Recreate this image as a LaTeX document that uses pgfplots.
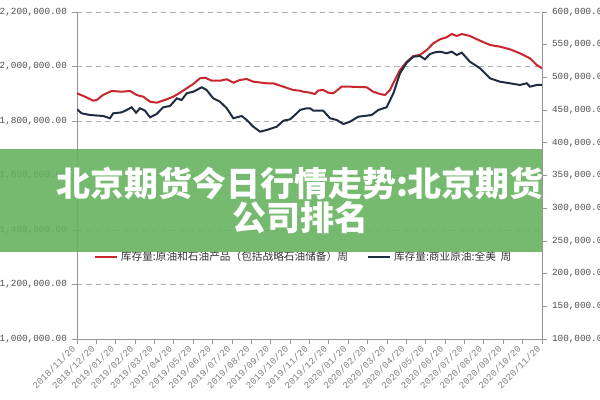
\documentclass[border=0pt]{standalone}
\usepackage{pgfplots}
\pgfplotsset{compat=1.18}
\usepackage{fontspec}
\setmainfont{Liberation Sans}
\newfontfamily\cjk{Noto Sans CJK SC}
\newfontfamily\numfont{Liberation Mono}
\definecolor{redline}{RGB}{200,38,45}
\definecolor{blueline}{RGB}{32,44,66}
\definecolor{banner}{RGB}{103,178,96}
\definecolor{axisgray}{RGB}{150,150,150}
\definecolor{gridgray}{RGB}{175,175,175}

\pgfplotsset{
  base/.style={
    at={(57.75pt,45.75pt)}, anchor=south west,
    scale only axis, width=348.75pt, height=245.25pt,
    xmin=0, xmax=24,
    axis line style={-, draw=axisgray, line width=0.6pt},
    tick style={draw=axisgray, line width=0.6pt},
    tick align=outside, major tick length=4pt,
    scaled y ticks=false,
    tick label style={font=\numfont\fontsize{7}{8}\selectfont, text=black!70},
  }
}

\begin{document}
\begin{tikzpicture}
\path[use as bounding box] (0,0) rectangle (450pt,300pt);

\begin{axis}[base,
    axis y line*=left, axis x line*=bottom,
    ymin=1000000, ymax=2200000,
    ytick={1000000,1200000,1400000,1600000,1800000,2000000,2200000},
    yticklabels={{1,000,000.00},{1,200,000.00},{1,400,000.00},{1,600,000.00},{1,800,000.00},{2,000,000.00},{2,200,000.00}},
    ymajorgrids, grid style={gridgray, dash pattern=on 4pt off 3pt, line width=0.6pt},
    xtick={0,...,24},
    xticklabels={2018/11/20,2018/12/20,2019/01/20,2019/02/20,2019/03/20,2019/04/20,2019/05/20,2019/06/20,2019/07/20,2019/08/20,2019/09/20,2019/10/20,2019/11/20,2019/12/20,2020/01/20,2020/02/20,2020/03/20,2020/04/20,2020/05/20,2020/06/20,2020/07/20,2020/08/20,2020/09/20,2020/10/20,2020/11/20},
    x tick label style={rotate=45, anchor=east, text=black!50, font=\numfont\fontsize{7}{7}\selectfont},
    legend columns=2,
    legend cell align=left,
    legend style={at={(0.035,0.252)}, anchor=west, draw=none, fill=none, inner sep=0pt,
      font=\cjk\fontsize{8}{9}\selectfont, text=black!80,
      /tikz/every even column/.append style={column sep=12pt}},
  ]
  \addplot[redline, line width=1.5pt] coordinates {
    (0,1901700) (0.41,1889200) (0.84,1874500) (1.02,1877100) (1.34,1895400)
    (1.79,1910100) (2.31,1907500) (2.74,1910100) (3.08,1895400) (3.42,1889200)
    (3.77,1870800) (4.11,1867200) (4.63,1879600) (4.97,1889200) (5.32,1903900)
    (5.66,1920000) (6.00,1935800) (6.35,1956700) (6.61,1958900) (6.95,1947900)
    (7.38,1947900) (7.73,1953000) (8.07,1940600) (8.41,1950500) (8.76,1954100)
    (9.10,1944200) (9.79,1938400) (10.13,1938400) (10.65,1925900) (11.16,1913800)
    (11.51,1911200) (11.68,1907500) (12.03,1903900) (12.28,1899100) (12.45,1911900)
    (12.71,1913800) (12.97,1903900) (13.23,1901700) (13.66,1925900) (14.09,1925900)
    (14.95,1923700) (15.29,1907500) (15.64,1899100) (15.90,1895400) (16.15,1913800)
    (16.41,1950500) (16.67,1987200) (17.02,2017600) (17.36,2038500) (17.70,2042200)
    (18.05,2060600) (18.39,2085100) (18.74,2099800) (19.08,2107200) (19.34,2119300)
    (19.60,2111900) (19.86,2119300) (20.28,2111900) (20.80,2094700) (21.32,2078900)
    (21.83,2072700) (22.35,2063100) (22.86,2048400) (23.38,2030100) (23.73,2005500)
    (24.00,1993400)
  };
  \addlegendentry{库存量:原油和石油产品（包括战略石油储备）周}
  \addlegendimage{blueline, line width=1.5pt}
  \addlegendentry{库存量:商业原油:全美\ \ 周}
\end{axis}

\begin{axis}[base,
    axis y line*=right, axis x line=none,
    ymin=100000, ymax=600000,
    ytick={100000,150000,...,600000},
    yticklabels={{100,000.00},{150,000.00},{200,000.00},{250,000.00},{300,000.00},{350,000.00},{400,000.00},{450,000.00},{500,000.00},{550,000.00},{600,000.00}},
  ]
  \addplot[blueline, line width=1.5pt] coordinates {
    (0,451200) (0.24,445100) (0.67,442500) (1.36,441000) (1.70,437500)
    (1.87,445100) (2.31,446600) (2.57,450200) (2.82,454300) (3.05,446000)
    (3.25,452800) (3.51,449100) (3.77,439000) (4.11,444000) (4.45,454300)
    (4.80,456300) (5.15,468000) (5.40,465400) (5.66,475700) (6.00,478100)
    (6.44,484900) (6.69,480700) (7.03,468000) (7.38,462800) (7.73,452800)
    (8.07,437500) (8.50,441000) (8.76,434900) (9.10,424600) (9.45,417000)
    (9.79,419600) (10.31,424600) (10.65,433800) (11.00,435900) (11.34,445100)
    (11.51,450200) (11.85,452800) (12.03,452800) (12.20,449100) (12.71,449100)
    (13.06,437500) (13.40,434900) (13.75,428700) (14.09,432300) (14.52,439900)
    (15.21,442500) (15.55,450200) (15.98,454300) (16.33,475700) (16.67,506300)
    (17.02,522500) (17.36,531700) (17.70,532700) (17.96,527700) (18.22,535800)
    (18.48,538400) (18.74,539300) (19.08,536900) (19.34,539300) (19.60,534300)
    (19.86,537800) (20.28,524000) (20.80,513900) (21.32,498600) (21.83,493400)
    (22.35,491000) (22.86,488400) (23.21,491000) (23.38,485800) (23.73,488400)
    (24.00,488400)
  };
\end{axis}

% green banner with title
\fill[banner, opacity=0.9] (0pt,111pt) rectangle (406.5pt,188.25pt);
\node[font=\cjk\bfseries\fontsize{25.5}{30}\selectfont, text=white, inner sep=0pt]
  at (225pt,162.75pt) {北京期货今日行情走势:北京期货};
\node[font=\cjk\bfseries\fontsize{25.5}{30}\selectfont, text=white, inner sep=0pt]
  at (225pt,136.5pt) {公司排名};
\end{tikzpicture}
\end{document}
